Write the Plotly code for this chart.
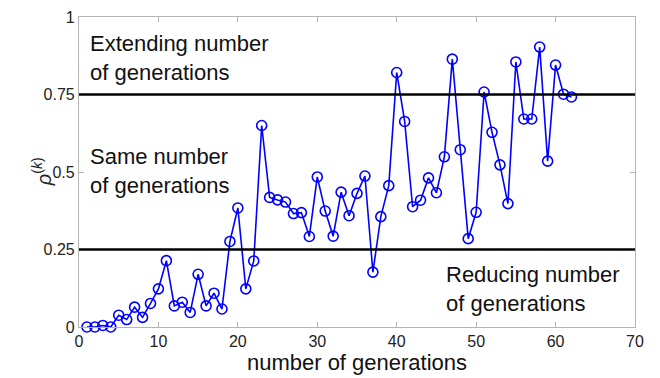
import plotly.graph_objects as go

# generation index and correlation value per generation
generations = list(range(1, 63))
rho = [
    0.000, 0.000, 0.005, 0.000, 0.038, 0.024, 0.064, 0.031, 0.076, 0.123,
    0.214, 0.068, 0.080, 0.047, 0.170, 0.068, 0.109, 0.058, 0.276, 0.384,
    0.123, 0.213, 0.650, 0.418, 0.410, 0.403, 0.366, 0.369, 0.292, 0.484,
    0.374, 0.293, 0.435, 0.359, 0.431, 0.487, 0.177, 0.356, 0.456, 0.821,
    0.663, 0.388, 0.409, 0.481, 0.433, 0.549, 0.864, 0.572, 0.285, 0.370,
    0.758, 0.628, 0.523, 0.398, 0.855, 0.671, 0.671, 0.903, 0.535, 0.845,
    0.751, 0.742,
]

thresholds = [0.25, 0.75]
x_ticks = [0, 10, 20, 30, 40, 50, 60, 70]
y_ticks = [0, 0.25, 0.5, 0.75, 1]
y_tick_text = ["0", "0.25", "0.5", "0.75", "1"]

region_labels = [
    ("Extending number<br>of generations", 1.1, 0.868),
    ("Same number<br>of generations", 1.1, 0.503),
    ("Reducing number<br>of generations", 46.0, 0.121),
]

FONT = "Liberation Sans, Arial, Helvetica, sans-serif"
AXIS_GRAY = "#b4b4b4"

fig = go.Figure()

fig.add_trace(go.Scatter(
    x=generations,
    y=rho,
    mode="lines+markers",
    line=dict(color="#0000ff", width=1.6),
    marker=dict(symbol="circle-open", size=10, color="#0000ff",
                line=dict(width=1.6, color="#0000ff")),
    cliponaxis=False,
    showlegend=False,
))

for t in thresholds:
    fig.add_shape(type="line", xref="x", yref="y",
                  x0=x_ticks[0], x1=x_ticks[-1], y0=t, y1=t,
                  line=dict(color="black", width=2.5), layer="above")

for text, xv, yv in region_labels:
    fig.add_annotation(x=xv, y=yv, xref="x", yref="y", text=text,
                       showarrow=False, xanchor="left", yanchor="middle",
                       align="left", font=dict(family=FONT, size=22, color="#111"))

# rotated y-axis label
fig.add_annotation(x=-0.068, y=0.5, xref="paper", yref="paper",
                   text="<i>ρ</i><sup>(<i>k</i>)</sup>", textangle=-90,
                   showarrow=False, xanchor="center", yanchor="middle",
                   font=dict(family=FONT, size=20, color="#222"))

axis_common = dict(
    showline=True, mirror="ticks", linecolor=AXIS_GRAY, linewidth=1.2,
    ticks="inside", ticklen=5, tickcolor=AXIS_GRAY, tickwidth=1,
    showgrid=False, zeroline=False,
    tickfont=dict(family=FONT, size=16, color="#222"),
)

fig.update_xaxes(range=[0, 70], tickvals=x_ticks, **axis_common,
                 title=dict(text="number of generations",
                            font=dict(family=FONT, size=22, color="#111"),
                            standoff=1))
fig.update_yaxes(range=[0, 1], tickvals=y_ticks, ticktext=y_tick_text,
                 **axis_common)

fig.update_layout(
    width=660, height=378,
    margin=dict(l=79, r=25, t=9, b=51),
    paper_bgcolor="white", plot_bgcolor="white",
    font=dict(family=FONT),
)

fig.write_html("out.html")
